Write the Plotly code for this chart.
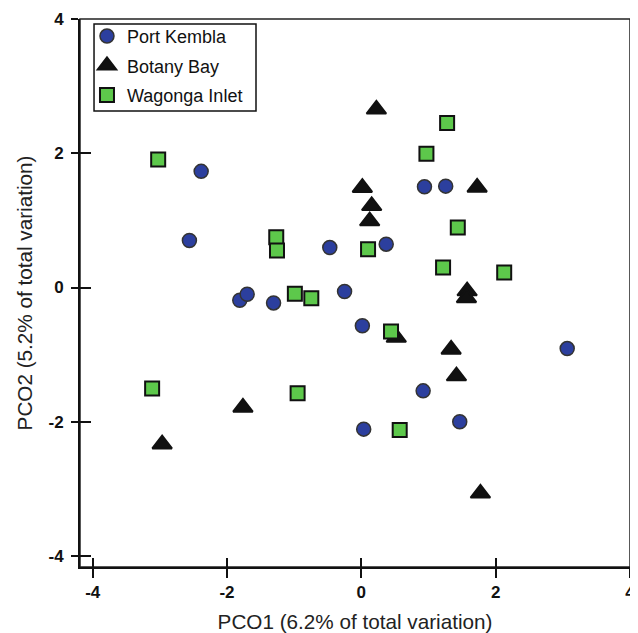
import plotly.graph_objects as go

# ---- data ----
port_kembla_x = [-2.385, -2.56, -1.81, -1.70, -1.307, -0.47, -0.25, 0.37, 0.94, 1.256, 0.015, 0.92, 0.035, 1.465, 3.065]
port_kembla_y = [1.73, 0.70, -0.19, -0.10, -0.23, 0.595, -0.06, 0.645, 1.50, 1.51, -0.57, -1.54, -2.11, -2.00, -0.91]

botany_bay_x = [0.224, 0.015, 0.154, 0.124, 1.724, 1.575, 1.565, 0.52, 1.337, 1.416, 1.773, -1.763, -2.966]
botany_bay_y = [2.655, 1.487, 1.217, 0.99, 1.49, -0.054, -0.156, -0.745, -0.923, -1.32, -3.067, -1.787, -2.335]

wagonga_x = [-3.025, -1.267, -1.256, -0.99, -0.745, 0.10, 1.277, 0.969, 1.436, 1.217, 2.127, 0.442, 0.571, -3.115, -0.949]
wagonga_y = [1.905, 0.749, 0.55, -0.095, -0.16, 0.57, 2.45, 1.994, 0.893, 0.298, 0.223, -0.655, -2.124, -1.503, -1.577]

tick_vals = [-4, -2, 0, 2, 4]
tick_text = ["-4", "-2", "0", "2", "4"]

x_title = "PCO1 (6.2% of total variation)"
y_title = "PCO2 (5.2% of total variation)"

X_RANGE = [-4.189, 4.0]
Y_RANGE = [-4.164, 4.0]

FONT = "Liberation Sans, Arial, Helvetica, sans-serif"

fig = go.Figure()

fig.add_trace(go.Scatter(
    x=port_kembla_x, y=port_kembla_y, mode="markers", name="Port Kembla",
    legendgroup="a",
    marker=dict(symbol="circle", size=14, color="#2C3F9E",
                line=dict(color="#333333", width=1.5)),
))
fig.add_trace(go.Scatter(
    x=botany_bay_x, y=botany_bay_y, mode="markers", name="Botany Bay",
    legendgroup="b",
    marker=dict(symbol="triangle-up", size=17, color="#111111",
                line=dict(color="#111111", width=2)),
))
fig.add_trace(go.Scatter(
    x=wagonga_x, y=wagonga_y, mode="markers", name="Wagonga Inlet",
    legendgroup="c",
    marker=dict(symbol="square", size=14, color="#5DC84B",
                line=dict(color="#111111", width=2)),
))
# empty trace on the overlay axes (used only for the inner tick halves)
fig.add_trace(go.Scatter(x=[], y=[], xaxis="x2", yaxis="y2", showlegend=False,
                         hoverinfo="skip"))

axis_common = dict(
    tickvals=tick_vals, ticktext=tick_text, showgrid=False, zeroline=False,
    automargin=False,
)

# the page body has an 8px margin, so the figure is sized to the visible area
fig.update_layout(
    width=630, height=625,
    margin=dict(l=72, r=8, t=11, b=66, autoexpand=False),
    paper_bgcolor="white", plot_bgcolor="white",
    font=dict(family=FONT, color="#111111"),
    showlegend=True,
    legend=dict(
        x=0.0127, y=1.002, xanchor="left", yanchor="top",
        borderwidth=0, bgcolor="rgba(0,0,0,0)",
        font=dict(family=FONT, size=18, color="#111111"),
        traceorder="grouped", tracegroupgap=3,
    ),
    xaxis=dict(
        **axis_common, range=X_RANGE, showline=True, linewidth=2, linecolor="#111111",
        ticks="outside", ticklen=9, tickwidth=1.5, tickcolor="#111111",
        tickfont=dict(family=FONT, size=17, color="#111111", weight="bold"),
        title=dict(text=x_title, font=dict(family=FONT, size=20.7, color="#222222"), standoff=13),
    ),
    yaxis=dict(
        **axis_common, range=Y_RANGE, showline=True, linewidth=2, linecolor="#111111",
        ticks="outside", ticklen=7, tickwidth=1.5, tickcolor="#111111",
        ticklabelstandoff=4,
        tickfont=dict(family=FONT, size=17, color="#111111", weight="bold"),
        title=dict(text=y_title, font=dict(family=FONT, size=20.7, color="#222222"), standoff=10),
    ),
    xaxis2=dict(
        **axis_common, range=X_RANGE, overlaying="x", anchor="y", side="bottom",
        showline=False, ticks="inside", ticklen=9, tickwidth=1.5, tickcolor="#111111",
        showticklabels=False,
    ),
    yaxis2=dict(
        **axis_common, range=Y_RANGE, overlaying="y", anchor="x", side="left",
        showline=False, ticks="inside", ticklen=11, tickwidth=1.5, tickcolor="#111111",
        showticklabels=False,
    ),
    shapes=[
        # plot frame (top/right thin lines)
        dict(type="rect", xref="paper", yref="paper", x0=0, x1=1, y0=0, y1=1,
             line=dict(color="#222222", width=1.5), layer="below"),
        # legend box
        dict(type="rect", xref="paper", yref="paper", x0=0.0255, x1=0.32,
             y0=0.832, y1=0.991, line=dict(color="#111111", width=1.5), layer="above"),
    ],
)

fig.write_html("out.html")
